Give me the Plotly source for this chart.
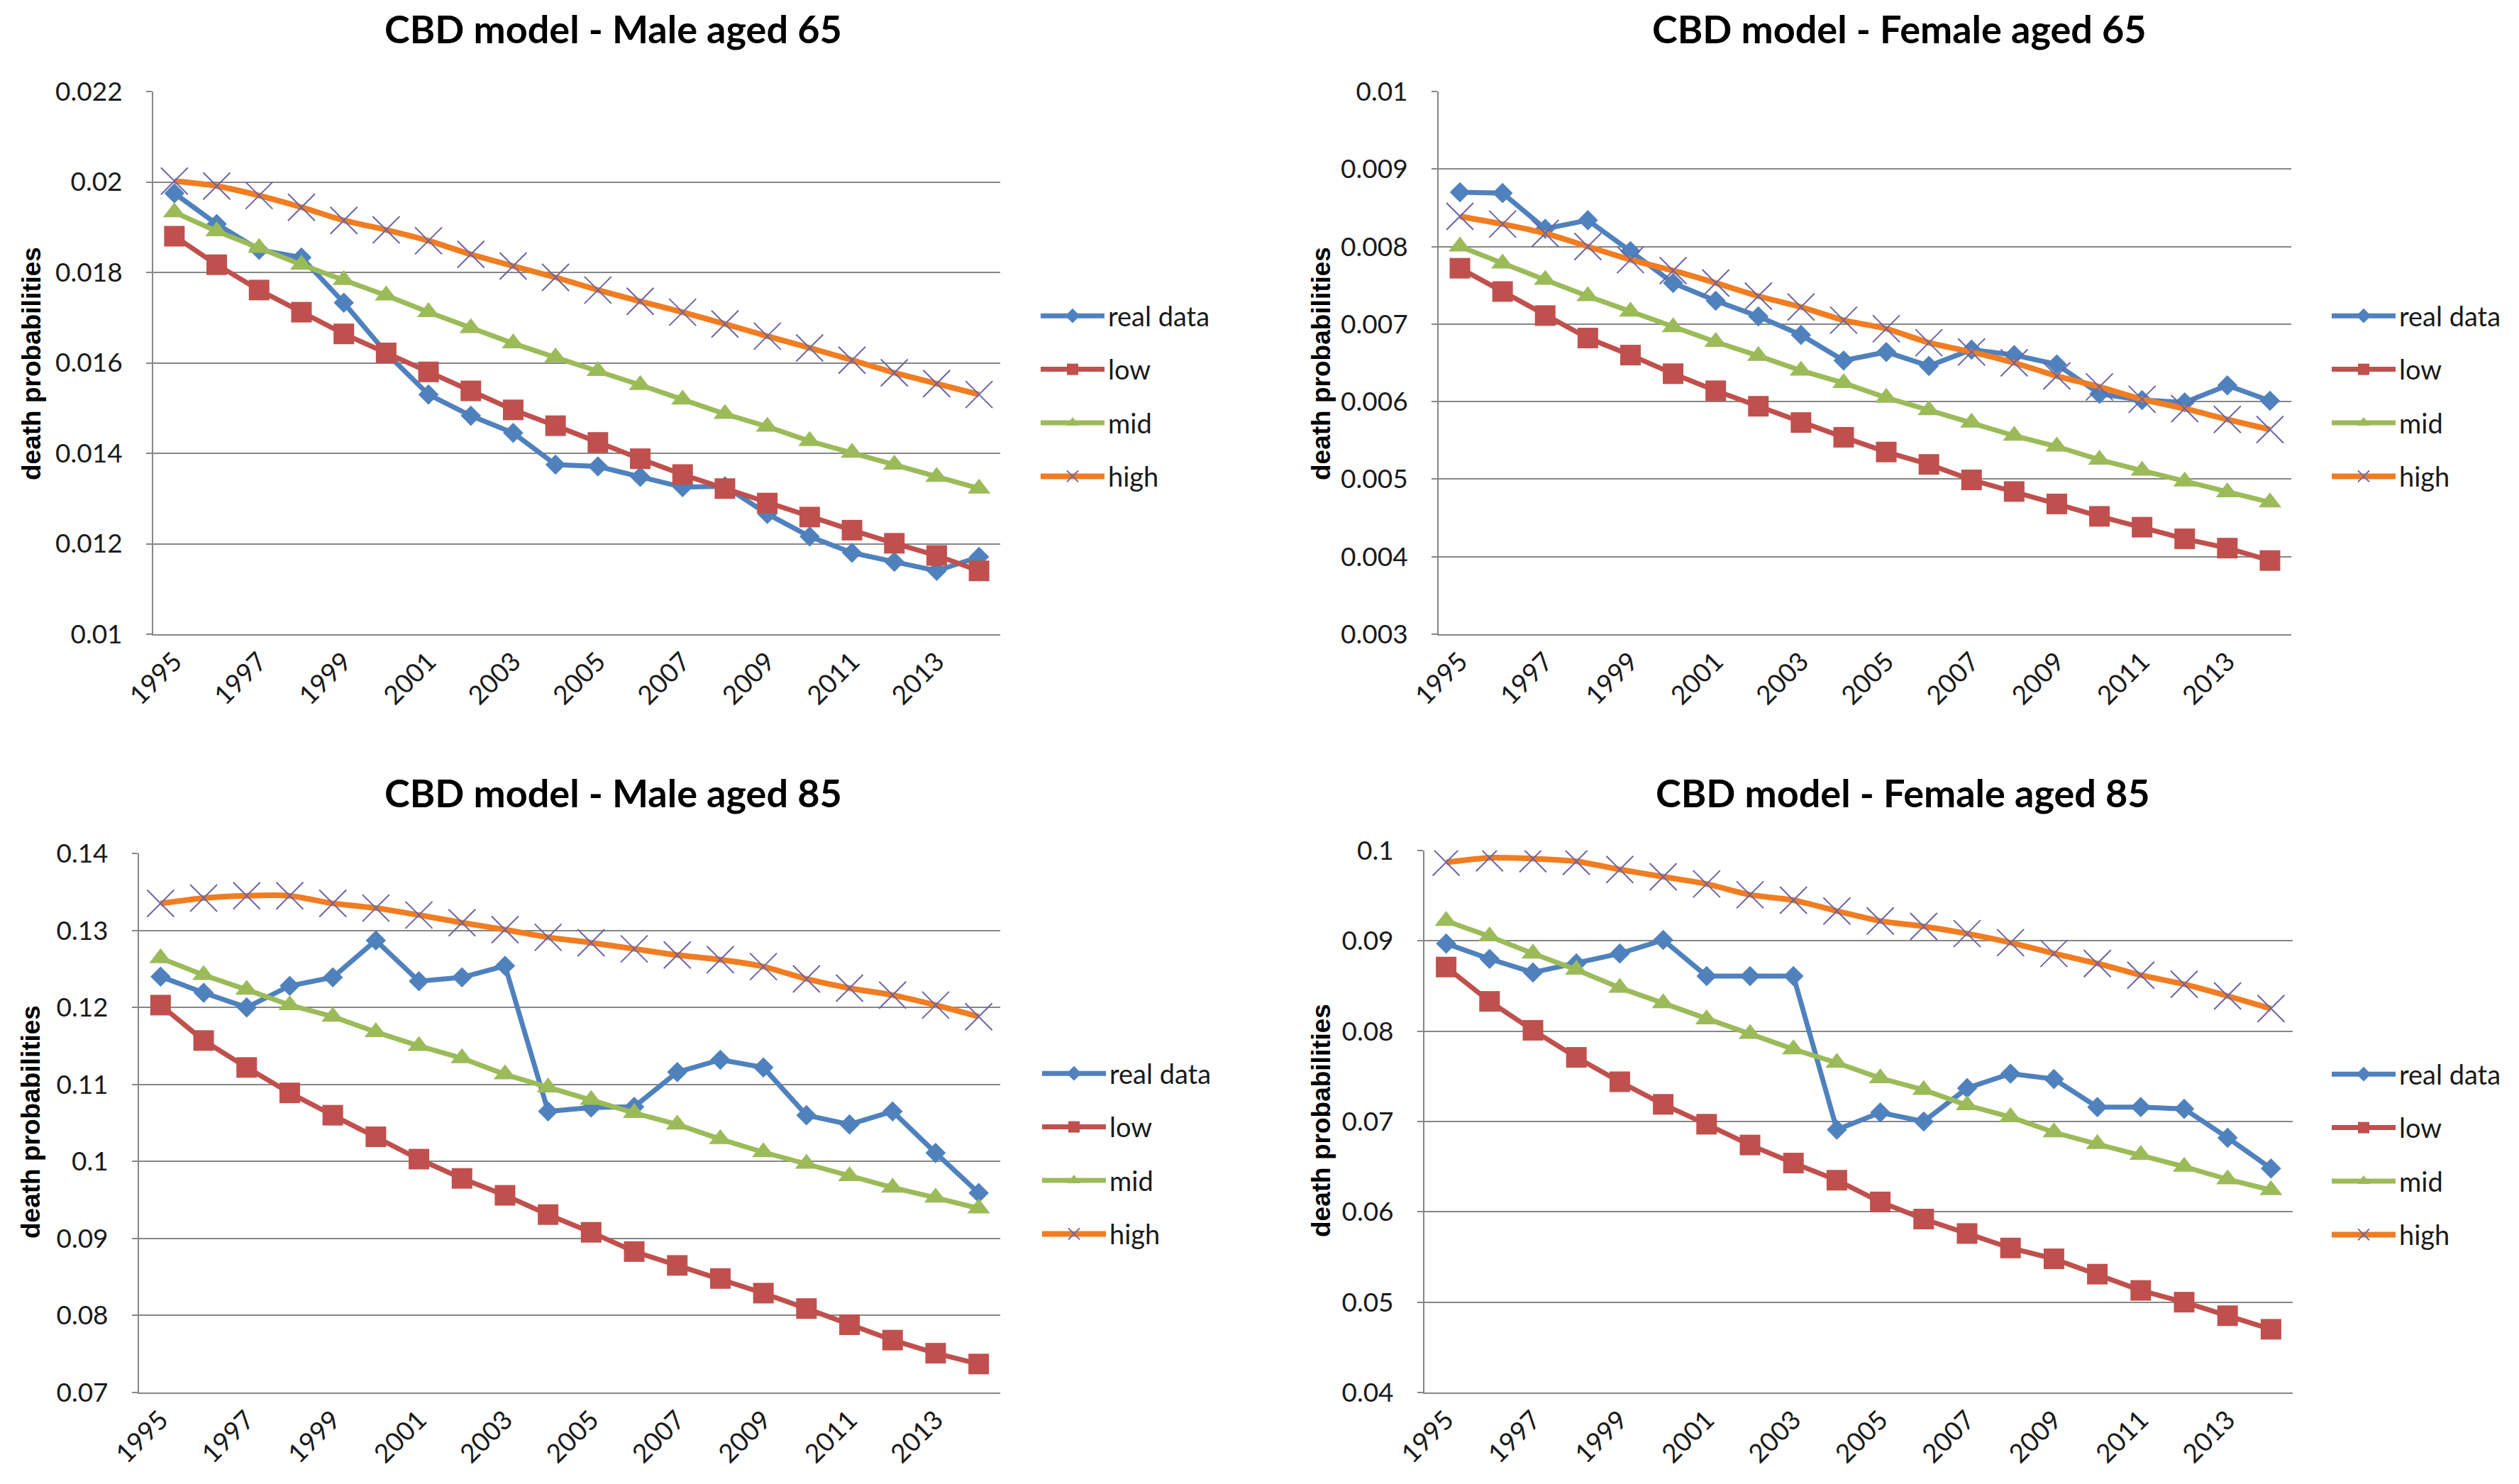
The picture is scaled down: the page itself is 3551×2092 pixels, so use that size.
import plotly.graph_objects as go

years = list(range(1995, 2015))
x_tick_years = [1995, 1997, 1999, 2001, 2003, 2005, 2007, 2009, 2011, 2013]
x_tick_labels = [str(y) for y in x_tick_years]
series_names = ["real data", "low", "mid", "high"]

# ---- Male aged 65 ----
m65_real = [0.01975, 0.01907, 0.01850, 0.01833, 0.01733, 0.01622, 0.01530, 0.01483, 0.01445, 0.01375,
            0.01371, 0.01348, 0.01325, 0.01327, 0.01266, 0.01216, 0.01180, 0.01160, 0.01140, 0.01171]
m65_low = [0.01880, 0.01817, 0.01761, 0.01712, 0.01664, 0.01622, 0.01580, 0.01538, 0.01496, 0.01461,
           0.01424, 0.01388, 0.01353, 0.01322, 0.01290, 0.01259, 0.01230, 0.01201, 0.01174, 0.01140]
m65_mid = [0.01933, 0.01891, 0.01854, 0.01817, 0.01783, 0.01749, 0.01712, 0.01677, 0.01643, 0.01612,
           0.01582, 0.01551, 0.01519, 0.01487, 0.01459, 0.01427, 0.01401, 0.01375, 0.01348, 0.01322]
m65_high = [0.02002, 0.01991, 0.01970, 0.01944, 0.01915, 0.01894, 0.01870, 0.01840, 0.01814, 0.01789,
            0.01761, 0.01736, 0.01712, 0.01686, 0.01659, 0.01633, 0.01606, 0.01578, 0.01554, 0.01530]
m65_yticks = [0.010, 0.012, 0.014, 0.016, 0.018, 0.020, 0.022]
m65_yticklabels = ["0.01", "0.012", "0.014", "0.016", "0.018", "0.02", "0.022"]

# ---- Female aged 65 ----
f65_real = [0.00870, 0.00869, 0.00823, 0.00834, 0.00794, 0.00753, 0.00730, 0.00710, 0.00686, 0.00653,
            0.00664, 0.00646, 0.00667, 0.00660, 0.00648, 0.00610, 0.00602, 0.00599, 0.00621, 0.00601]
f65_low = [0.00772, 0.00742, 0.00711, 0.00682, 0.00660, 0.00636, 0.00614, 0.00594, 0.00573, 0.00554,
           0.00535, 0.00519, 0.00499, 0.00484, 0.00468, 0.00452, 0.00438, 0.00423, 0.00411, 0.00395]
f65_mid = [0.00800, 0.00778, 0.00757, 0.00736, 0.00716, 0.00696, 0.00677, 0.00659, 0.00640, 0.00624,
           0.00605, 0.00589, 0.00573, 0.00556, 0.00542, 0.00525, 0.00511, 0.00497, 0.00483, 0.00470]
f65_high = [0.00839, 0.00829, 0.00817, 0.00800, 0.00783, 0.00769, 0.00753, 0.00736, 0.00722, 0.00705,
            0.00694, 0.00676, 0.00664, 0.00650, 0.00633, 0.00619, 0.00603, 0.00591, 0.00577, 0.00564]
f65_yticks = [0.003, 0.004, 0.005, 0.006, 0.007, 0.008, 0.009, 0.010]
f65_yticklabels = ["0.003", "0.004", "0.005", "0.006", "0.007", "0.008", "0.009", "0.01"]

# ---- Male aged 85 ----
m85_real = [0.1240, 0.1219, 0.1200, 0.1228, 0.1239, 0.1287, 0.1234, 0.1239, 0.1254, 0.1065,
            0.1070, 0.1071, 0.1116, 0.1132, 0.1122, 0.1060, 0.1048, 0.1065, 0.1011, 0.0959]
m85_low = [0.1203, 0.1157, 0.1122, 0.1089, 0.1060, 0.1032, 0.1003, 0.0978, 0.0956, 0.0931,
           0.0908, 0.0883, 0.0865, 0.0848, 0.0829, 0.0809, 0.0788, 0.0768, 0.0751, 0.0737]
m85_mid = [0.1264, 0.1242, 0.1223, 0.1203, 0.1188, 0.1168, 0.1150, 0.1134, 0.1113, 0.1096,
           0.1080, 0.1063, 0.1048, 0.1029, 0.1012, 0.0997, 0.0981, 0.0966, 0.0953, 0.0939]
m85_high = [0.1335, 0.1342, 0.1345, 0.1345, 0.1335, 0.1329, 0.1320, 0.1310, 0.1301, 0.1291,
            0.1284, 0.1276, 0.1268, 0.1262, 0.1253, 0.1237, 0.1225, 0.1216, 0.1203, 0.1188]
m85_yticks = [0.07, 0.08, 0.09, 0.10, 0.11, 0.12, 0.13, 0.14]
m85_yticklabels = ["0.07", "0.08", "0.09", "0.1", "0.11", "0.12", "0.13", "0.14"]

# ---- Female aged 85 ----
f85_real = [0.0897, 0.0880, 0.0865, 0.0875, 0.0886, 0.0901, 0.0861, 0.0861, 0.0861, 0.0691,
            0.0710, 0.0700, 0.0737, 0.0753, 0.0747, 0.0716, 0.0716, 0.0714, 0.0682, 0.0648]
f85_low = [0.0871, 0.0833, 0.0801, 0.0771, 0.0744, 0.0719, 0.0697, 0.0674, 0.0654, 0.0635,
           0.0611, 0.0592, 0.0576, 0.0560, 0.0548, 0.0531, 0.0513, 0.0500, 0.0485, 0.0470]
f85_mid = [0.0922, 0.0905, 0.0886, 0.0868, 0.0848, 0.0831, 0.0813, 0.0797, 0.0780, 0.0765,
           0.0748, 0.0735, 0.0718, 0.0705, 0.0688, 0.0675, 0.0663, 0.0650, 0.0636, 0.0624]
f85_high = [0.0987, 0.0992, 0.0991, 0.0988, 0.0979, 0.0971, 0.0963, 0.0951, 0.0945, 0.0933,
            0.0922, 0.0916, 0.0908, 0.0898, 0.0886, 0.0875, 0.0862, 0.0852, 0.0839, 0.0825]
f85_yticks = [0.04, 0.05, 0.06, 0.07, 0.08, 0.09, 0.10]
f85_yticklabels = ["0.04", "0.05", "0.06", "0.07", "0.08", "0.09", "0.1"]

titles = ["CBD model - Male aged 65", "CBD model - Female aged 65",
          "CBD model - Male aged 85", "CBD model - Female aged 85"]
panel_series = [
    (m65_real, m65_low, m65_mid, m65_high, m65_yticks, m65_yticklabels),
    (f65_real, f65_low, f65_mid, f65_high, f65_yticks, f65_yticklabels),
    (m85_real, m85_low, m85_mid, m85_high, m85_yticks, m85_yticklabels),
    (f85_real, f85_low, f85_mid, f85_high, f85_yticks, f85_yticklabels),
]

# ---- layout geometry (paper fractions) ----
W, H = 3551, 2092
x_domains = [[216 / W, 1410 / W], [2028 / W, 3230 / W], [196 / W, 1410 / W], [2008 / W, 3232 / W]]
y_domains = [[1 - 894 / H, 1 - 129 / H], [1 - 894 / H, 1 - 129 / H],
             [1 - 1963 / H, 1 - 1203 / H], [1 - 1963 / H, 1 - 1199 / H]]
title_pos = [(864 / W, 1 - 40 / H), (2677 / W, 1 - 40 / H),
             (864 / W, 1 - 1117 / H), (2682 / W, 1 - 1117 / H)]
ytitle_pos = [(44 / W, 1 - 513 / H), (1862 / W, 1 - 513 / H),
              (44 / W, 1 - 1582 / H), (1862 / W, 1 - 1580 / H)]
legend_pos = [(1462 / W, 1 - 414 / H), (3282 / W, 1 - 414 / H),
              (1464 / W, 1 - 1482 / H), (3282 / W, 1 - 1483 / H)]

colors = {"real data": "#4F81BD", "low": "#C0504D", "mid": "#9BBB59", "high": "#F07D22"}
GRID = "#868686"
TICKFONT = dict(family="Lato, Carlito, sans-serif", size=37, color="#1a1a1a")

fig = go.Figure()
layout_upd = {}
annotations = []

for i, (real, low, mid, high, yt, ytl) in enumerate(panel_series):
    n = "" if i == 0 else str(i + 1)
    xa, ya = "x" + n, "y" + n
    leg = "legend" + n
    vals = {"real data": real, "low": low, "mid": mid, "high": high}
    for s in series_names:
        c = colors[s]
        if s == "real data":
            marker = dict(symbol="diamond", size=22, color=c)
            line = dict(color=c, width=7)
        elif s == "low":
            marker = dict(symbol="square", size=29, color=c)
            line = dict(color=c, width=7)
        elif s == "mid":
            marker = dict(symbol="triangle-up", size=28, color=c)
            line = dict(color=c, width=7)
        else:
            marker = dict(symbol="x-thin", size=38, color="#6A64A8",
                          line=dict(color="#6A64A8", width=2))
            line = dict(color=c, width=8, shape="spline", smoothing=0.6)
        fig.add_trace(go.Scatter(
            x=years, y=vals[s], mode="lines+markers", name=s,
            line=line, marker=marker, xaxis=xa, yaxis=ya,
            legend=leg, legendgroup=f"p{i}_{s}", showlegend=True,
        ))

    axis_x_key = "xaxis" + n
    axis_y_key = "yaxis" + n
    layout_upd[axis_x_key] = dict(
        domain=x_domains[i], anchor=ya, range=[1994.5, 2014.5],
        tickmode="array", tickvals=x_tick_years, ticktext=x_tick_labels,
        tickangle=-45, showgrid=False, zeroline=False, automargin=False,
        showline=True, linecolor=GRID, linewidth=2, ticks="",
        tickfont=TICKFONT,
    )
    layout_upd[axis_y_key] = dict(
        domain=y_domains[i], anchor=xa, range=[yt[0], yt[-1]],
        tickmode="array", tickvals=yt, ticktext=ytl, automargin=False,
        showgrid=True, gridcolor=GRID, gridwidth=2, zeroline=False,
        showline=True, linecolor=GRID, linewidth=2,
        ticks="outside", ticklen=8, tickcolor=GRID, tickwidth=2,
        ticklabelstandoff=26, tickfont=TICKFONT,
    )
    lx, ly = legend_pos[i]
    layout_upd[leg] = dict(
        x=lx, y=ly, xanchor="left", yanchor="top",
        font=dict(family="Lato, Carlito, sans-serif", size=38, color="#1a1a1a"),
        bgcolor="rgba(0,0,0,0)", tracegroupgap=23, itemwidth=90,
        traceorder="grouped",
    )
    tx, ty = title_pos[i]
    annotations.append(dict(
        x=tx, y=ty, xref="paper", yref="paper", xanchor="center", yanchor="middle",
        text="<b>" + titles[i] + "</b>", showarrow=False,
        font=dict(family="Lato, Carlito, sans-serif", size=54, color="#000000"),
    ))
    yx, yy = ytitle_pos[i]
    annotations.append(dict(
        x=yx, y=yy, xref="paper", yref="paper", xanchor="center", yanchor="middle",
        text="<b>death probabilities</b>", textangle=-90, showarrow=False,
        font=dict(family="Liberation Sans, Arial, sans-serif", size=37, color="#000000"),
    ))

fig.update_layout(
    width=W, height=H, margin=dict(l=0, r=0, t=0, b=0, autoexpand=False),
    paper_bgcolor="white", plot_bgcolor="white",
    annotations=annotations, **layout_upd,
)

fig.write_html(
    "out.html",
    config={"displayModeBar": False},
    post_script="document.body.style.margin='0';document.body.style.padding='0';",
)
